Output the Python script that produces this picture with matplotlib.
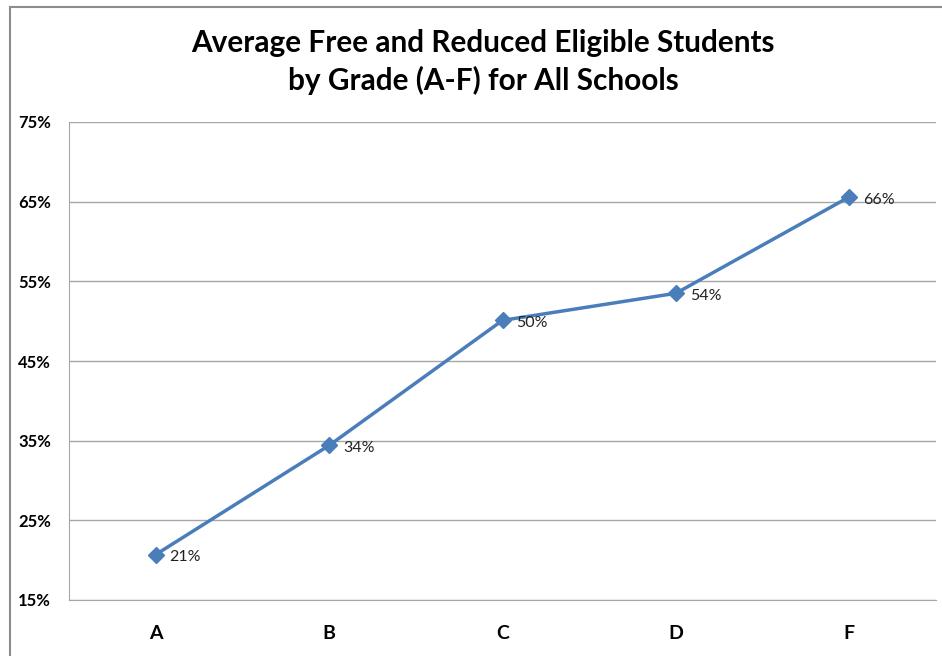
import matplotlib.pyplot as plt
from matplotlib.patches import Rectangle

# Données
grades = ['A', 'B', 'C', 'D', 'F']
pct_values = [20.7, 34.4, 50.1, 53.5, 65.6]
pct_labels = ['21%', '34%', '50%', '54%', '66%']
y_ticks = [15, 25, 35, 45, 55, 65, 75]

plt.rcParams['font.family'] = ['Lato', 'DejaVu Sans']

W, H = 942, 656
fig = plt.figure(figsize=(W / 100, H / 100), dpi=100)

# Cadre du graphique (bords droit et bas hors de l'image)
fig.patches.append(Rectangle((10 / W, -0.1), 1.2, 1.1 - 7 / H, transform=fig.transFigure,
                             fill=False, edgecolor='#8c8c8c', linewidth=1.5))

# Zone de tracé
left, right, top, bottom = 69, 936, 122, 600
ax = fig.add_axes([left / W, 1 - bottom / H, (right - left) / W, (bottom - top) / H])

x = range(len(grades))
ax.plot(x, pct_values, color='#4a7ebb', linewidth=2.5, marker='D', markersize=8)
for xi, v, lab in zip(x, pct_values, pct_labels):
    ax.annotate(lab, (xi, v), xytext=(10, -2), textcoords='offset points',
                va='center', ha='left', fontsize=11.5, color='#222222')

ax.set_xlim(-0.5, len(grades) - 0.5)
ax.set_ylim(15, 75)
ax.set_yticks(y_ticks)
ax.set_yticklabels([f'{t}%' for t in y_ticks], fontsize=12, fontweight='bold')
ax.set_xticks(list(x))
ax.set_xticklabels(grades, fontsize=14, fontweight='bold')
ax.tick_params(axis='both', length=0)
ax.tick_params(axis='y', pad=13)
ax.tick_params(axis='x', pad=18)
ax.yaxis.grid(True, color='#a6a6a6', linewidth=1)
ax.set_axisbelow(True)
for s in ['top', 'right']:
    ax.spines[s].set_visible(False)
for s in ['left', 'bottom']:
    ax.spines[s].set_color('#a6a6a6')

fig.text(483 / W, 1 - 62 / H, 'Average Free and Reduced Eligible Students\nby Grade (A-F) for All Schools',
         ha='center', va='center', fontsize=21.4, fontweight='bold', linespacing=1.35)

fig.savefig('out.png', dpi=100)
